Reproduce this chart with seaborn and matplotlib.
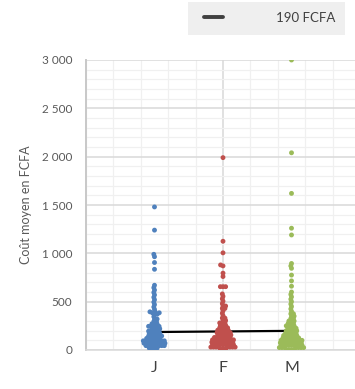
"""
plot.py
Coût moyen par mois (J, F, M) — nuage de points en essaim + ligne de moyenne.
"""

import matplotlib
matplotlib.use("Agg")
import matplotlib.pyplot as plt
import matplotlib.ticker as mticker
from matplotlib.lines import Line2D
from matplotlib.patches import Rectangle
import numpy as np
import pandas as pd
import seaborn as sns

# ── data (cost value -> number of points) ───────────────────────────────────
MONTHS = ["J", "F", "M"]
COLORS = ["#4F81BD", "#C0504D", "#9BBB59"]

j_vals   = [1480, 1240, 990, 965, 905, 835,
            670, 645, 620, 595, 570, 545, 520, 495, 470, 445, 420,
            395, 385, 370, 345, 320, 295, 270, 245, 220, 195, 170, 145,
            120, 95, 70, 45, 20]
j_counts = [1, 1, 1, 1, 1, 1,
            1, 1, 1, 1, 1, 1, 1, 1, 1, 1, 1,
            2, 2, 2, 1, 2, 2, 3, 5, 4, 5, 5, 6,
            6, 9, 9, 8, 4]

f_vals   = [1990, 1125, 1005, 880, 870, 795, 760, 655,
            580, 555, 530, 505, 480, 455, 430, 405, 380, 355, 330, 305,
            280, 255, 230, 205, 180, 155, 130, 105, 80, 55, 30, 10]
f_counts = [1, 1, 1, 1, 1, 1, 1, 3,
            1, 1, 1, 1, 1, 2, 2, 1, 1, 1, 2, 2,
            3, 3, 4, 5, 6, 6, 7, 9, 9, 9, 8, 3]

m_vals   = [3000, 2040, 1620, 1260, 1190, 895, 870, 845, 775, 715, 660, 600,
            575, 550, 525, 500, 475, 450, 425, 400,
            375, 350, 325, 300, 275, 250, 225, 200, 175, 150, 125, 100,
            75, 50, 25, 5]
m_counts = [1, 1, 1, 1, 1, 1, 1, 1, 1, 1, 1, 1,
            1, 1, 1, 1, 1, 1, 1, 1,
            2, 2, 2, 3, 3, 4, 4, 5, 5, 6, 7, 9,
            9, 9, 7, 4]

moyenne = [186, 192, 198]
legend_label = "190 FCFA"

frames = []
for mois, vals, counts in [("J", j_vals, j_counts),
                           ("F", f_vals, f_counts),
                           ("M", m_vals, m_counts)]:
    cout = np.repeat(vals, counts)
    frames.append(pd.DataFrame({"mois": mois, "cout": cout}))
df = pd.concat(frames, ignore_index=True)

# ── style ───────────────────────────────────────────────────────────────────
sns.set_style("white")
plt.rcParams["font.family"] = ["Lato", "DejaVu Sans"]
TXT = "#595959"

fig = plt.figure(figsize=(3.55, 3.89), dpi=100)
ax = fig.add_axes([86 / 355, 39 / 389, 274 / 355, 290 / 389])

sns.pointplot(x=MONTHS, y=moyenne, color="black", markers="",
              linewidth=1.6, ax=ax, zorder=2)
# swarm laid out with small markers, drawn with bigger (overlapping) dots
sns.swarmplot(data=df, x="mois", y="cout", hue="mois", order=MONTHS,
              hue_order=MONTHS, palette=COLORS, size=1.8, linewidth=0,
              legend=False, ax=ax, zorder=3)

ax.set_xlim(-1, 3)
ax.set_ylim(0, 3000)

fig.canvas.draw()
for coll in ax.collections:
    if "draw" in coll.__dict__:
        del coll.draw
        coll.set_sizes([3.5 ** 2])

# grid
ax.yaxis.set_major_locator(mticker.MultipleLocator(500))
ax.yaxis.set_minor_locator(mticker.MultipleLocator(100))
ax.set_xticks([0, 1, 2])
ax.set_xticklabels(MONTHS)
ax.xaxis.set_minor_locator(mticker.FixedLocator(np.arange(-1, 3.01, 0.4)))
ax.grid(False)
ax.set_axisbelow(True)
ax.grid(which="major", axis="y", color="#d9d9d9", linewidth=1.1)
ax.grid(which="minor", axis="both", color="#f0f0f0", linewidth=0.9)
ax.axvline(1, color="#d9d9d9", linewidth=1.1, zorder=0.5)

ax.yaxis.set_major_formatter(
    mticker.FuncFormatter(lambda v, p: f"{int(v):,}".replace(",", " ")))
ax.tick_params(axis="y", which="both", length=0, labelsize=8.5,
               labelcolor=TXT, pad=10)
ax.tick_params(axis="x", which="both", length=0, labelsize=11.5,
               labelcolor="#404040", pad=8)

for side in ["top", "right"]:
    ax.spines[side].set_visible(False)
ax.spines["left"].set_color("#c8c8c8")
ax.spines["left"].set_linewidth(1.4)
ax.spines["bottom"].set_color("#d9d9d9")
ax.spines["bottom"].set_linewidth(1.1)

ax.set_xlabel("")
ax.set_ylabel("Coût moyen en FCFA", fontsize=9, color=TXT, labelpad=7)

# legend box at the top
fig.patches.append(Rectangle((188 / 355, 1 - 35 / 389), 157 / 355, 33 / 389,
                             transform=fig.transFigure, facecolor="#efefef",
                             edgecolor="none", zorder=0))
handle = Line2D([], [], color="#404040", linewidth=2.8)
fig.legend([handle], [legend_label], loc="center left",
           bbox_to_anchor=(197 / 355, 1 - 18 / 389), frameon=False,
           borderpad=0, handlelength=1.5, handletextpad=4.0,
           fontsize=9.5, labelcolor="#404040")

fig.savefig("out.png", dpi=100)
